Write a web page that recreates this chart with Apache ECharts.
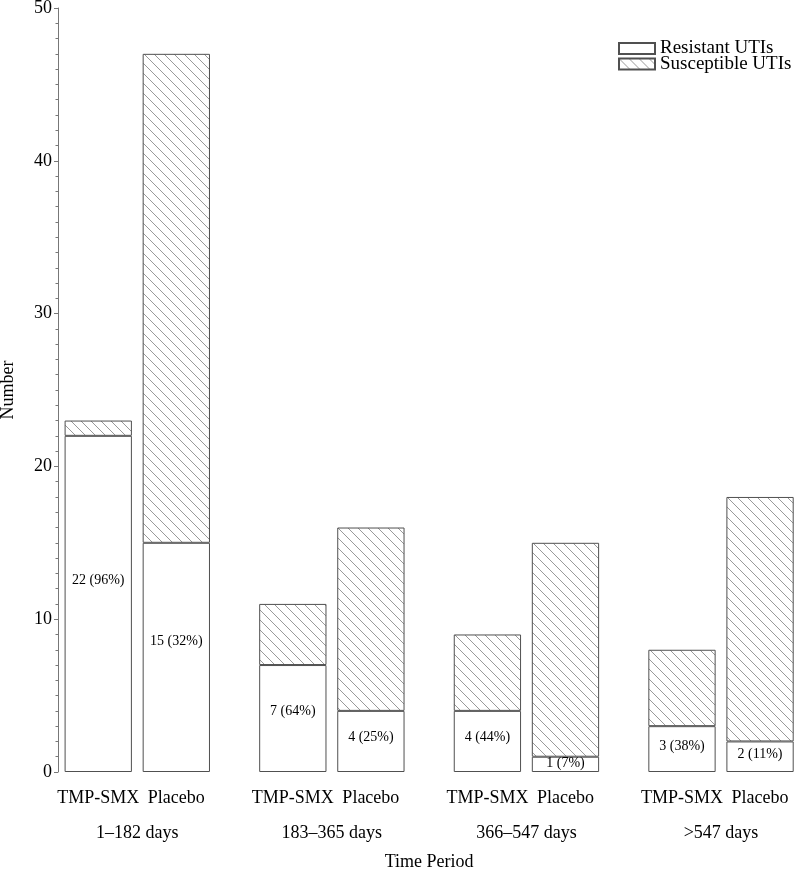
<!DOCTYPE html>
<html>
<head>
<meta charset="utf-8">
<script src="https://cdn.jsdelivr.net/npm/echarts@6/dist/echarts.min.js"></script>
<style>html,body{margin:0;padding:0;background:#fff}#c{width:800px;height:870px}</style>
</head>
<body>
<div id="c"></div>
<script>
const periods = ['1–182 days', '183–365 days', '366–547 days', '>547 days'];
const treatments = ['TMP-SMX', 'Placebo'];
const tmpResistant = [22, 7, 4, 3];
const tmpSusceptible = [1, 4, 5, 5];
const placeboResistant = [15, 4, 1, 2];
const placeboSusceptible = [32, 12, 14, 16];
const yTicks = [0, 10, 20, 30, 40, 50];

const FONT = 'Liberation Serif';

function hatch() {
  const s = 10;
  const c = document.createElement('canvas');
  c.width = s; c.height = s;
  const g = c.getContext('2d');
  g.fillStyle = '#fff';
  g.fillRect(0, 0, s, s);
  g.strokeStyle = '#999';
  g.lineWidth = 1;
  g.beginPath();
  g.moveTo(-1, -1); g.lineTo(s + 1, s + 1);
  g.moveTo(-s - 1, -1); g.lineTo(1, s + 1);
  g.moveTo(s - 1, -1); g.lineTo(2 * s + 1, s + 1);
  g.stroke();
  return c;
}
const hatchFill = { image: hatch(), repeat: 'repeat' };

const border = { borderColor: '#505050', borderWidth: 1 };

function labelFor(res, sus) {
  return {
    show: true,
    position: ['50%', '43%'],
    align: 'center',
    verticalAlign: 'middle',
    fontFamily: FONT,
    fontSize: 14,
    color: '#000',
    formatter: p => {
      const r = res[p.dataIndex], s = sus[p.dataIndex];
      return r + ' (' + Math.round(r / (r + s) * 100) + '%)';
    }
  };
}

const chart = echarts.init(document.getElementById('c'), null, { renderer: 'canvas' });
chart.setOption({
  animation: false,
  backgroundColor: '#fff',
  grid: { left: 40, right: -18.3, top: 8, bottom: 98, containLabel: false, outerBoundsMode: 'none' },
  legend: {
    orient: 'vertical',
    left: 618,
    top: 39,
    padding: 0,
    icon: 'rect',
    itemWidth: 36,
    itemHeight: 11,
    itemGap: -3.5,
    selectedMode: false,
    data: ['Resistant UTIs', 'Susceptible UTIs'],
    textStyle: { fontFamily: FONT, fontSize: 19, color: '#000' }
  },
  xAxis: {
    type: 'category',
    data: periods,
    name: 'Time Period',
    nameLocation: 'middle',
    nameGap: 81,
    nameTextStyle: { fontFamily: FONT, fontSize: 18, color: '#000' },
    axisLine: { show: false },
    axisTick: { show: false },
    axisLabel: {
      margin: 8.5,
      interval: 0,
      formatter: v => '{a|' + treatments[0] + '}{b|' + treatments[1] + '}\n{c|' + v + '}',
      rich: {
        a: { width: 78, align: 'center', fontFamily: FONT, fontSize: 18, color: '#000', lineHeight: 35 },
        b: { width: 78, align: 'center', fontFamily: FONT, fontSize: 18, color: '#000', lineHeight: 35 },
        c: { width: 156, align: 'center', fontFamily: FONT, fontSize: 18, color: '#000', lineHeight: 35 }
      }
    }
  },
  yAxis: {
    type: 'value',
    min: yTicks[0],
    max: yTicks[yTicks.length - 1],
    interval: 10,
    offset: -18,
    name: 'Number',
    nameLocation: 'middle',
    nameRotate: 90,
    nameGap: 41,
    nameTextStyle: { fontFamily: FONT, fontSize: 18, color: '#000' },
    axisLine: { show: true, lineStyle: { color: '#777', width: 1 } },
    axisTick: { show: true, length: 4, lineStyle: { color: '#777' } },
    minorTick: { show: true, splitNumber: 10, length: 2.5, lineStyle: { color: '#777' } },
    splitLine: { show: false },
    axisLabel: { margin: 6, fontFamily: FONT, fontSize: 18, color: '#000' }
  },
  series: [
    { name: 'Resistant UTIs', type: 'bar', stack: 'tmp', data: tmpResistant, barWidth: 67.3, barGap: '16%',
      itemStyle: Object.assign({ color: '#fff' }, border), label: labelFor(tmpResistant, tmpSusceptible), emphasis: { disabled: true } },
    { name: 'Susceptible UTIs', type: 'bar', stack: 'tmp', data: tmpSusceptible, barWidth: 67.3, barGap: '16%',
      itemStyle: Object.assign({ color: hatchFill }, border), emphasis: { disabled: true } },
    { name: 'Resistant UTIs', type: 'bar', stack: 'plc', data: placeboResistant, barWidth: 67.3, barGap: '16%',
      itemStyle: Object.assign({ color: '#fff' }, border), label: labelFor(placeboResistant, placeboSusceptible), emphasis: { disabled: true } },
    { name: 'Susceptible UTIs', type: 'bar', stack: 'plc', data: placeboSusceptible, barWidth: 67.3, barGap: '16%',
      itemStyle: Object.assign({ color: hatchFill }, border), emphasis: { disabled: true } }
  ]
});
</script>
</body>
</html>
